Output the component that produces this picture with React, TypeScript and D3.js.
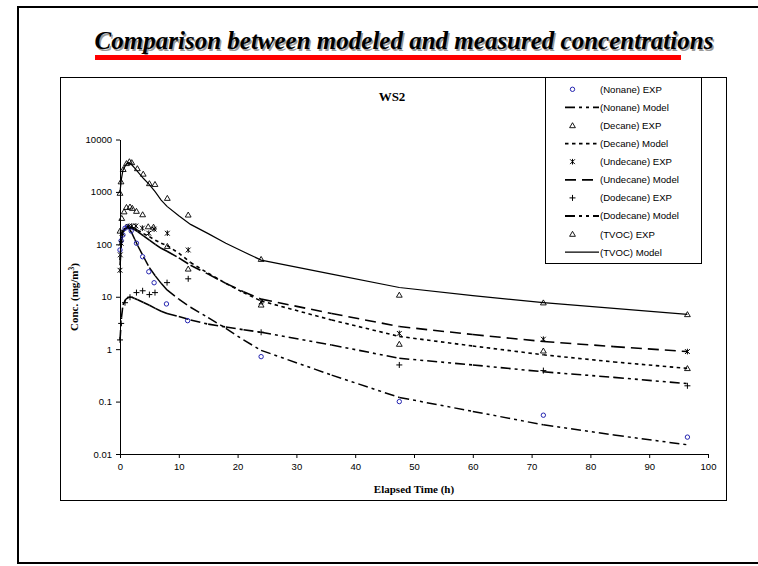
import React, { useEffect, useRef } from 'react';
import * as d3 from 'd3';

// measured points (h, mg/m3)
const nonaneT = [0, 0.2, 0.5, 0.85, 1.25, 1.9, 2.8, 3.85, 4.9, 5.8, 7.9, 11.5, 24, 47.5, 72, 96.5];
const nonaneExp = [78, 117, 151, 203, 218, 180, 105, 58, 30, 18.5, 7.3, 3.5, 0.72, 0.1, 0.055, 0.021];

const decaneT = [0, 0.3, 0.7, 1.1, 1.7, 2.1, 2.8, 3.85, 4.8, 5.7, 8.05, 11.6, 24, 47.5, 72, 96.5];
const decaneExp = [180, 315, 420, 510, 520, 490, 430, 370, 218, 214, 92, 34, 7.0, 1.25, 0.93, 0.43];

const undecaneT = [0, 0.05, 0.2, 0.35, 1.4, 2.0, 2.7, 3.8, 4.9, 5.8, 8.05, 11.6, 24, 47.5, 72, 96.5];
const undecaneExp = [32, 63, 105, 163, 218, 224, 224, 204, 163, 195, 163, 78, 8.0, 2.0, 1.55, 0.9];

const dodecaneT = [0, 0.2, 0.85, 1.7, 2.8, 3.85, 5.0, 5.95, 8.0, 11.6, 24, 47.5, 72, 96.5];
const dodecaneExp = [1.5, 3.1, 7.7, 9.8, 12, 13, 11, 12, 18.6, 22, 2.1, 0.5, 0.39, 0.2];

const tvocT = [0, 0.17, 0.55, 1.1, 1.6, 2.0, 2.95, 3.95, 5.0, 5.95, 8.05, 11.6, 24, 47.5, 72, 96.5];
const tvocExp = [950, 1570, 2700, 3500, 3800, 3650, 2800, 2200, 1450, 1400, 760, 365, 52, 10.8, 7.7, 4.6];

// model output
const modelT = [0, 0.25, 0.5, 1, 1.5, 2, 2.5, 3, 4, 5, 6, 7, 8, 10, 12, 15, 18, 21, 24, 36, 47.5, 60, 72, 84, 96.5];
const nonaneModel = [100, 150, 185, 210, 205, 165, 125, 95, 58, 36, 25, 18, 13.5, 9, 6.3, 4, 2.5, 1.5, 0.95, 0.32, 0.12, 0.065, 0.036, 0.023, 0.015];
const decaneModel = [50, 130, 180, 215, 220, 210, 200, 185, 160, 140, 120, 105, 95, 68, 45, 28, 18, 12, 8.3, 3.6, 1.75, 1.15, 0.78, 0.57, 0.43];
const undecaneModel = [40, 110, 170, 205, 210, 200, 190, 175, 145, 120, 100, 84, 74, 55, 40, 27, 18, 12.5, 9, 4.8, 2.7, 1.9, 1.4, 1.12, 0.9];
const dodecaneModel = [1.5, 4, 7, 9, 9.8, 9.8, 9.3, 8.8, 7.8, 6.9, 6, 5.3, 4.8, 4.2, 3.6, 3.0, 2.65, 2.35, 2.1, 1.2, 0.67, 0.5, 0.37, 0.29, 0.22];
const tvocModel = [1000, 1800, 2600, 3300, 3650, 3300, 2850, 2450, 1800, 1380, 1000, 700, 530, 350, 240, 160, 105, 72, 50, 27, 15, 10.5, 7.7, 6, 4.6];

const xTicks = [0, 10, 20, 30, 40, 50, 60, 70, 80, 90, 100];
const yTicks = [0.01, 0.1, 1, 10, 100, 1000, 10000];

const legendLabels = [
  '(Nonane) EXP', '(Nonane) Model', '(Decane) EXP', '(Decane) Model', '(Undecane) EXP',
  '(Undecane) Model', '(Dodecane) EXP', '(Dodecane) Model', '(TVOC) EXP', '(TVOC) Model',
];

const BLUE = '#2424b0';
const SANS = 'Liberation Sans, Arial, sans-serif';
const SERIF = 'Liberation Serif, Times New Roman, serif';

const x = d3.scaleLinear().domain([0, 100]).range([120, 708]);
const y = d3.scaleLog().domain([0.01, 10000]).range([454, 139.5]);

const Marker = ({ kind, cx, cy, color = '#000' }: any) => {
  if (kind === 'circle')
    return <circle cx={cx} cy={cy} r={2.2} fill="none" stroke={color} strokeWidth={1} />;
  if (kind === 'triangle')
    return <path d={`M${cx},${cy - 2.8}L${cx + 2.9},${cy + 2.2}L${cx - 2.9},${cy + 2.2}Z`} fill="none" stroke={color} strokeWidth={0.9} />;
  if (kind === 'star')
    return <path d={`M${cx - 2.4},${cy - 2.4}L${cx + 2.4},${cy + 2.4}M${cx + 2.4},${cy - 2.4}L${cx - 2.4},${cy + 2.4}M${cx},${cy - 2.8}V${cy + 2.8}`} stroke={color} strokeWidth={1} />;
  return <path d={`M${cx - 3},${cy}H${cx + 3}M${cx},${cy - 3}V${cy + 3}`} stroke={color} strokeWidth={1} />;
};

// each segment starts its own dash pattern, like the old Excel renderer
const ModelLine = ({ v, dash, width }: any) => {
  const pts = modelT.map((t, i) => [x(t), y(v[i])]);
  if (!dash) {
    const line = d3.line();
    return <path d={line(pts as any) || ''} fill="none" stroke="#000" strokeWidth={width} />;
  }
  return (
    <g>
      {pts.slice(1).map((p, i) => (
        <line key={i} x1={pts[i][0]} y1={pts[i][1]} x2={p[0]} y2={p[1]}
          stroke="#000" strokeWidth={width} strokeDasharray={dash} />
      ))}
    </g>
  );
};

const DASH_NONANE = '10,4,3,4,3,4';
const DASH_DECANE = '3.5,3.5';
const DASH_UNDECANE = '11,6';
const DASH_DODECANE = '10,4,3,4,3,4';

export default function App() {
  const xAxisRef = useRef<SVGGElement>(null);
  const yAxisRef = useRef<SVGGElement>(null);

  useEffect(() => {
    const gx = d3.select(xAxisRef.current as SVGGElement);
    gx.call(d3.axisBottom(x).tickValues(xTicks).tickSize(4).tickSizeOuter(0).tickPadding(5).tickFormat(d3.format('d')) as any);
    const gy = d3.select(yAxisRef.current as SVGGElement);
    gy.call(d3.axisLeft(y).tickValues(yTicks).tickSize(4).tickSizeOuter(0).tickPadding(4).tickFormat((d: any) => String(d)) as any);
    [gx, gy].forEach((g: any) => {
      g.attr('font-family', SANS).attr('font-size', 9.5);
      g.selectAll('text').attr('fill', '#000');
      g.selectAll('line, path').attr('stroke', '#000');
    });
  }, []);

  const exp = [
    { t: nonaneT, v: nonaneExp, kind: 'circle', color: BLUE },
    { t: decaneT, v: decaneExp, kind: 'triangle' },
    { t: undecaneT, v: undecaneExp, kind: 'star' },
    { t: dodecaneT, v: dodecaneExp, kind: 'plus' },
    { t: tvocT, v: tvocExp, kind: 'triangle' },
  ];
  const models = [
    { v: nonaneModel, dash: DASH_NONANE, width: 1.5 },
    { v: decaneModel, dash: DASH_DECANE, width: 1.6 },
    { v: undecaneModel, dash: DASH_UNDECANE, width: 1.6 },
    { v: dodecaneModel, dash: DASH_DODECANE, width: 1.6 },
    { v: tvocModel, dash: null, width: 1.2 },
  ];
  const legendKeys: any[] = [
    { kind: 'circle', color: BLUE }, { dash: DASH_NONANE },
    { kind: 'triangle' }, { dash: DASH_DECANE },
    { kind: 'star' }, { dash: DASH_UNDECANE },
    { kind: 'plus' }, { dash: DASH_DODECANE },
    { kind: 'triangle' }, { dash: 'none' },
  ];

  return (
    <svg width={758} height={566} style={{ position: 'absolute', left: 0, top: 0, background: '#fff' }}>
      {/* slide frame */}
      <path d="M760,7H18V563H760" fill="none" stroke="#000" strokeWidth={2} />

      {/* slide title */}
      <g fontFamily={SERIF} fontWeight="bold" fontStyle="italic" fontSize={25} textAnchor="middle">
        <text x={405.5} y={50.5} fill="#9a9a9a">Comparison between modeled and measured concentrations</text>
        <text x={404} y={49} fill="#000">Comparison between modeled and measured concentrations</text>
      </g>
      <rect x={95} y={55} width={586} height={5} fill="#ff0000" />

      {/* chart area */}
      <rect x={60.5} y={77.5} width={666} height={423} fill="#fff" stroke="#000" strokeWidth={1} />

      <text x={392} y={101} textAnchor="middle" fontFamily={SERIF} fontWeight="bold" fontSize={13}>WS2</text>

      {models.map((m, i) => <ModelLine key={i} {...m} />)}
      {exp.map((s, i) => (
        <g key={i}>
          {s.t.map((t, j) => <Marker key={j} kind={s.kind} cx={x(t)} cy={y(s.v[j])} color={s.color || '#000'} />)}
        </g>
      ))}

      <g ref={xAxisRef} transform="translate(0,454)" />
      <g ref={yAxisRef} transform="translate(120,0)" />

      <text x={414} y={493} textAnchor="middle" fontFamily={SERIF} fontWeight="bold" fontSize={11}>Elapsed Time (h)</text>
      <text transform="translate(78,297) rotate(-90)" textAnchor="middle" fontFamily={SERIF} fontWeight="bold" fontSize={11}>
        Conc. (mg/m<tspan fontSize={7.5} dy={-4}>3</tspan><tspan dy={4}>)</tspan>
      </text>

      {/* legend */}
      <rect x={545.5} y={77.5} width={156} height={186} fill="#fff" stroke="#000" strokeWidth={1} />
      {legendLabels.map((label, i) => {
        const ly = 89.3 + i * 18.1;
        const k = legendKeys[i];
        return (
          <g key={label}>
            {k.kind ? (
              <Marker kind={k.kind} cx={572.5} cy={ly} color={k.color || '#000'} />
            ) : (
              <line x1={565} x2={599} y1={ly} y2={ly} stroke="#000" strokeWidth={k.dash === 'none' ? 1.2 : 1.8}
                strokeDasharray={k.dash === 'none' ? undefined : k.dash} />
            )}
            <text x={600} y={ly + 3.4} fontFamily={SANS} fontSize={9.6}>{label}</text>
          </g>
        );
      })}
    </svg>
  );
}
